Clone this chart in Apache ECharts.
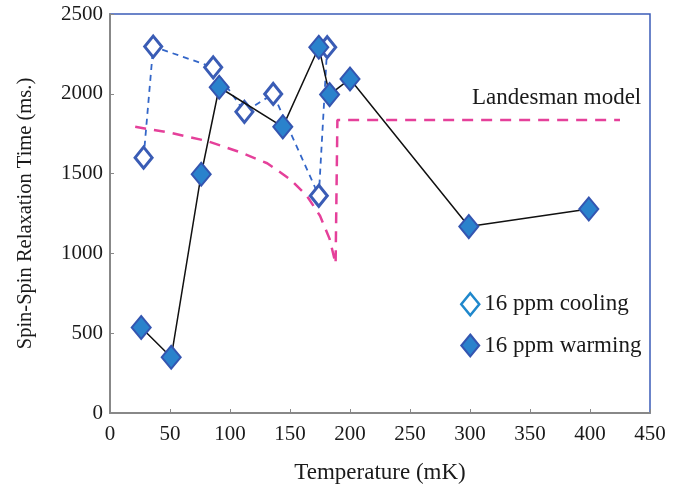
<!DOCTYPE html>
<html>
<head>
<meta charset="utf-8">
<script src="https://cdn.jsdelivr.net/npm/echarts@6/dist/echarts.min.js"></script>
<style>
  html, body { margin: 0; padding: 0; background: #fff; }
  #chart { width: 681px; height: 489px; }
</style>
</head>
<body>
<div id="chart"></div>
<script>
// temperature (mK) / T2 (ms.)
var coolingT = [28, 36, 86, 112, 136, 174, 181];
var coolingT2 = [1600, 2296, 2166, 1887, 1999, 1361, 2292];

var warmingT = [26, 51, 76, 91, 144, 174, 183, 200, 299, 399];
var warmingT2 = [536, 349, 1496, 2041, 1793, 2292, 1995, 2093, 1168, 1278];

// Landesman model (dashed curve)
var modelT = [21, 50, 81, 108, 131, 150, 164, 175, 183, 188, 189, 189.5, 425];
var modelT2 = [1793, 1756, 1704, 1635, 1565, 1465, 1361, 1236, 1091, 935, 925, 1836, 1836];

var xTicks = [0, 50, 100, 150, 200, 250, 300, 350, 400, 450];
var yTicks = [0, 500, 1000, 1500, 2000, 2500];

function zip(a, b) {
    var out = [];
    for (var i = 0; i < a.length; i++) out.push([a[i], b[i]]);
    return out;
}

var serif = '"Liberation Serif", "DejaVu Serif", serif';
var chart = echarts.init(document.getElementById('chart'));

chart.setOption({
    animation: false,
    backgroundColor: '#fff',
    grid: {
        left: 110, right: 31, top: 14, bottom: 74,
        show: true,
        borderColor: '#3b5cb8',
        borderWidth: 1.5
    },
    xAxis: {
        type: 'value',
        min: xTicks[0], max: xTicks[xTicks.length - 1], interval: 50,
        name: 'Temperature (mK)',
        nameLocation: 'middle',
        nameGap: 48,
        nameTextStyle: { fontFamily: serif, fontSize: 23, color: '#1a1a1a' },
        axisLine: { lineStyle: { color: '#888', width: 2 } },
        axisTick: { inside: true, length: 4, lineStyle: { color: '#888' } },
        axisLabel: {
            fontFamily: serif, fontSize: 21, color: '#1a1a1a', margin: 11,
            formatter: function (v) { return String(v); }
        },
        splitLine: { show: false }
    },
    yAxis: {
        type: 'value',
        min: yTicks[0], max: yTicks[yTicks.length - 1], interval: 500,
        name: 'Spin-Spin Relaxation Time (ms.)',
        nameLocation: 'middle',
        nameGap: 74,
        nameTextStyle: { fontFamily: serif, fontSize: 20.5, color: '#1a1a1a' },
        axisLine: { show: true, lineStyle: { color: '#888', width: 2 } },
        axisTick: { show: true, inside: true, length: 4, lineStyle: { color: '#888' } },
        axisLabel: {
            fontFamily: serif, fontSize: 21, color: '#1a1a1a', margin: 7,
            formatter: function (v) { return String(v); }
        },
        splitLine: { show: false }
    },
    legend: {
        orient: 'vertical',
        left: 455, top: 287,
        itemWidth: 18, itemHeight: 22,
        itemGap: 17,
        textStyle: { fontFamily: serif, fontSize: 23, color: '#1a1a1a' },
        data: [
            { name: '16 ppm cooling', icon: 'diamond',
              itemStyle: { color: '#fff', borderColor: '#1f88cc', borderWidth: 2.5 } },
            { name: '16 ppm warming', icon: 'diamond' }
        ]
    },
    graphic: [{
        type: 'text',
        left: 472, top: 86,
        style: { text: 'Landesman model', font: '23px ' + serif, fill: '#1a1a1a' }
    }],
    series: [{
        name: 'Landesman model',
        type: 'line',
        data: zip(modelT, modelT2),
        symbol: 'none',
        z: 1,
        lineStyle: { color: '#e5409a', width: 2.5, type: [11, 8] }
    }, {
        name: '16 ppm cooling',
        type: 'line',
        data: zip(coolingT, coolingT2),
        symbol: 'diamond',
        symbolSize: [17, 21],
        z: 2,
        lineStyle: { color: '#3366c8', width: 1.8, type: [6, 5] },
        itemStyle: { color: '#fff', borderColor: '#3a5cb5', borderWidth: 3 }
    }, {
        name: '16 ppm warming',
        type: 'line',
        data: zip(warmingT, warmingT2),
        symbol: 'diamond',
        symbolSize: [19, 23],
        z: 3,
        lineStyle: { color: '#111', width: 1.5 },
        itemStyle: { color: '#2a82cc', borderColor: '#3455b0', borderWidth: 2 }
    }]
});
</script>
</body>
</html>
